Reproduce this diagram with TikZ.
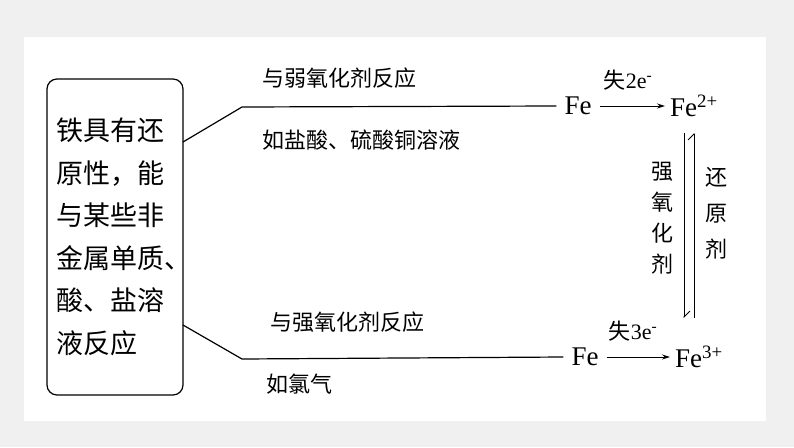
\documentclass[tikz,border=0pt]{standalone}
\usepackage{fontspec}
\usetikzlibrary{arrows.meta}
\setmainfont{Liberation Serif}
\newfontfamily\cjk{Noto Sans CJK SC}
\begin{document}
\begin{tikzpicture}[x=1pt,y=-1pt,
  cn/.style={font=\cjk\fontsize{22}{26}\selectfont,inner sep=0pt},
  fe/.style={font=\fontsize{27}{28}\selectfont,inner sep=0pt},
  ln/.style={line width=1.2pt},
  ar/.style={line width=0.9pt,-{Stealth[length=8pt,width=5pt]}}]
\useasboundingbox (0,0) rectangle (794,447);
\fill[gray!12] (0,0) rectangle (794,447);
\fill[white] (24,37) rectangle (766,421);
\node[draw,line width=1.2pt,rounded corners=10pt,minimum width=136pt,minimum height=316pt] (box) at (115,237) {};
\node[font=\cjk\fontsize{27}{42.5}\selectfont,align=left,anchor=north west,inner sep=0pt] (t) at (56,118) {铁具有还\\原性，能\\与某些非\\金属单质、\\酸、盐溶\\液反应};
\coordinate (u1) at (183,142); \coordinate (u2) at (242,107);
\coordinate (l1) at (183,325); \coordinate (l2) at (242,359);
\node[fe] (fe1) at (578,106) {Fe};
\node[fe,anchor=west] (fe2) at (670,106) {Fe\textsuperscript{2+}};
\node[fe] (fe3) at (585,357) {Fe};
\node[fe,anchor=west] (fe4) at (675,357) {Fe\textsuperscript{3+}};
\draw[ln] (u1) -- (u2) -- ([xshift=-8pt]fe1.west);
\draw[ln] (l1) -- (l2) -- ([xshift=-8pt]fe3.west);
\node[cn,anchor=west] (a) at (262,78) {与弱氧化剂反应};
\node[cn,anchor=west] (b) at (262,140) {如盐酸、硫酸铜溶液};
\node[cn,anchor=west] (c) at (270,322) {与强氧化剂反应};
\node[cn,anchor=west] (d) at (266,384) {如氯气};
\draw[ar] ([xshift=8pt]fe1.east) -- ([xshift=-5pt]fe2.west);
\node[font=\fontsize{22}{24}\selectfont,inner sep=0pt] (k1) at (628,80) {{\cjk 失}2e\textsuperscript{-}};
\draw[ar] ([xshift=8pt]fe3.east) -- ([xshift=-5pt]fe4.west);
\node[font=\fontsize{22}{24}\selectfont,inner sep=0pt] (k2) at (633,331) {{\cjk 失}3e\textsuperscript{-}};
\coordinate (v1) at (684,133); \coordinate (v2) at (684,318);
\coordinate (w1) at (694,318); \coordinate (w2) at (694,133);
\draw[line width=0.8pt,-{Straight Barb[left,length=6pt]}] (v1) -- (v2);
\draw[line width=0.8pt,-{Straight Barb[left,length=6pt]}] (w1) -- (w2);
\node[cn,align=center,font=\cjk\fontsize{22}{31}\selectfont] (s) at (662,218) {强\\氧\\化\\剂};
\node[cn,align=center,font=\cjk\fontsize{22}{36}\selectfont] (r) at (716,213) {还\\原\\剂};
\end{tikzpicture}
\end{document}
